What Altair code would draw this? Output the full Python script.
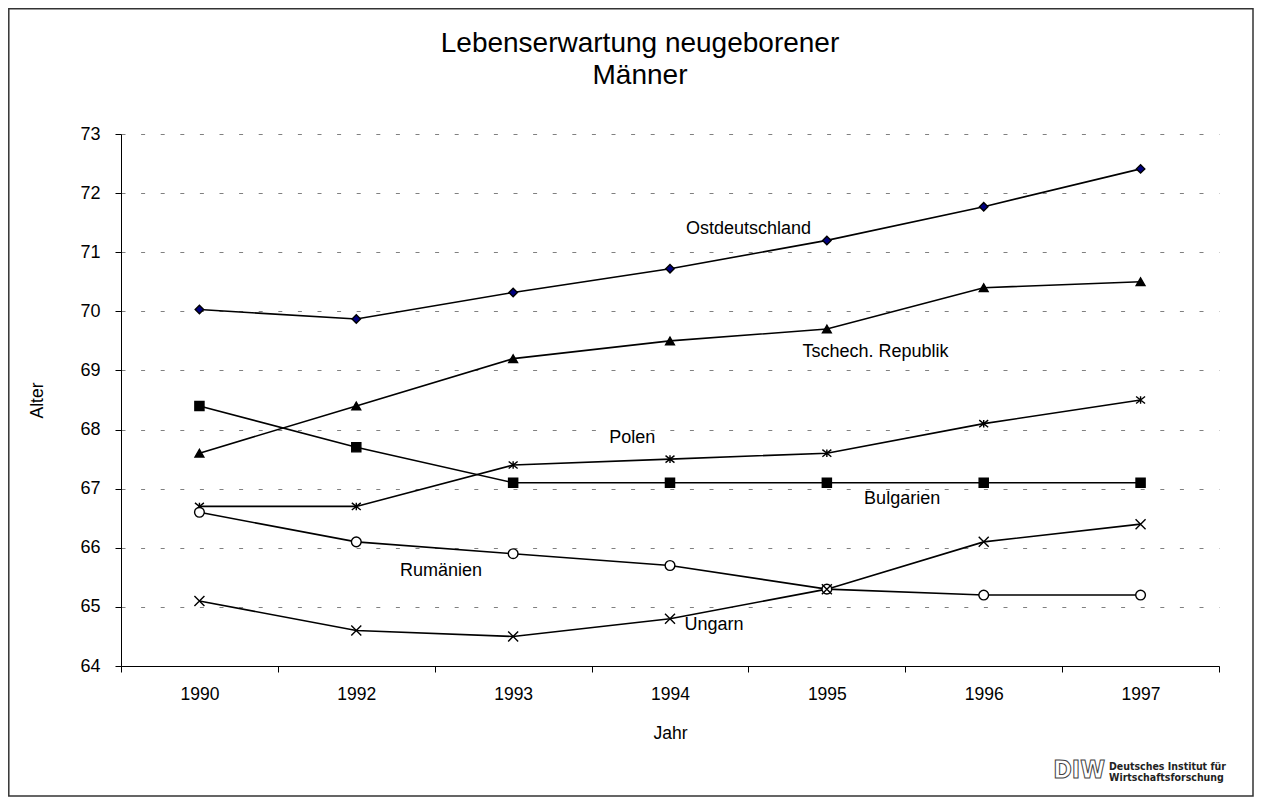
import altair as alt
import pandas as pd

# ---------------- data ----------------
years = ["1990", "1992", "1993", "1994", "1995", "1996", "1997"]
countries = ["Ostdeutschland", "Tschech. Republik", "Bulgarien", "Polen", "Rumänien", "Ungarn"]

ostdeutschland = [70.03, 69.87, 70.32, 70.72, 71.2, 71.77, 72.41]
tschechien = [67.6, 68.4, 69.2, 69.5, 69.7, 70.4, 70.5]
bulgarien = [68.4, 67.7, 67.1, 67.1, 67.1, 67.1, 67.1]
polen = [66.7, 66.7, 67.4, 67.5, 67.6, 68.1, 68.5]
rumaenien = [66.6, 66.1, 65.9, 65.7, 65.3, 65.2, 65.2]
ungarn = [65.1, 64.6, 64.5, 64.8, 65.3, 66.1, 66.4]
series = [ostdeutschland, tschechien, bulgarien, polen, rumaenien, ungarn]

# in-chart series labels (position along the category axis, value axis)
label_pos = [3.5, 4.31, 4.48, 2.76, 1.54, 3.28]
label_val = [71.39, 69.32, 66.83, 67.86, 65.61, 64.69]

y_ticks = list(range(64, 74))

title_lines = ["Lebenserwartung neugeborener", "Männer"]
logo_lines = ["Deutsches Institut für", "Wirtschaftsforschung"]

# ---------------- tables ----------------
rows = []
for c, vals in zip(countries, series):
    for i, (yr, v) in enumerate(zip(years, vals)):
        rows.append({"country": c, "year": yr, "pos": i, "value": v})
df = pd.DataFrame(rows)
lab_df = pd.DataFrame({"country": countries, "pos": label_pos, "value": label_val})
one = pd.DataFrame({"k": [0]})

# ---------------- styling ----------------
FONT = "Liberation Sans"
W, H = 1098, 532
n = len(years)
band = W / n

shapes = [
    "diamond",
    "triangle-up",
    "square",
    "M0,-0.8L0,0.8M-0.95,-0.75L0.95,0.75M-0.95,0.75L0.95,-0.75",
    "circle",
    "M-1,-1L1,1M-1,1L1,-1",
]
fills = ["#000080", "black", "black", "transparent", "white", "transparent"]
sizes = [72, 100, 72, 160, 90, 100]

year_js = "[" + ",".join("'" + y + "'" for y in years + [""]) + "]"

x_axis = alt.Axis(
    values=[k - 0.5 for k in range(n + 1)],
    labelExpr=year_js + "[round(datum.value + 0.5)]",
    labelOffset=band / 2,
    labelFlush=False,
    labelOverlap=False,
    labelFont=FONT,
    labelFontSize=17.5,
    labelColor="black",
    labelPadding=13,
    ticks=True,
    tickSize=6,
    tickColor="black",
    domainColor="black",
    domainWidth=1,
    grid=False,
    title="Jahr",
    titleFont=FONT,
    titleFontSize=17.5,
    titleFontWeight="normal",
    titleColor="black",
    titlePadding=22,
)
y_axis = alt.Axis(
    values=y_ticks,
    format="d",
    labelFont=FONT,
    labelFontSize=18,
    labelColor="black",
    labelPadding=15,
    tickSize=6,
    tickColor="black",
    domainColor="black",
    domainWidth=1,
    grid=True,
    gridColor="#808080",
    gridDash=[4, 15.6],
    gridWidth=1,
    title="Alter",
    titleFont=FONT,
    titleFontSize=17.5,
    titleFontWeight="normal",
    titleColor="black",
    titlePadding=33,
)

x_enc = alt.X("pos:Q", scale=alt.Scale(domain=[-0.5, n - 0.5], nice=False, zero=False), axis=x_axis)
y_enc = alt.Y("value:Q", scale=alt.Scale(domain=[64, 73], nice=False, zero=False), axis=y_axis)

base = alt.Chart(df).encode(x=x_enc, y=y_enc)

lines = base.mark_line(color="black", strokeWidth=1.6).encode(detail="country:N")

points = base.mark_point(filled=True, stroke="black", strokeWidth=1.4, opacity=1).encode(
    shape=alt.Shape("country:N", scale=alt.Scale(domain=countries, range=shapes), legend=None),
    fill=alt.Fill("country:N", scale=alt.Scale(domain=countries, range=fills), legend=None),
    size=alt.Size("country:N", scale=alt.Scale(domain=countries, range=sizes), legend=None),
)

labels = alt.Chart(lab_df).mark_text(
    font=FONT, fontSize=18, color="black", align="center", baseline="middle"
).encode(x=x_enc, y=y_enc, text="country:N")

title = alt.Chart(one).mark_text(
    font=FONT, fontSize=28, color="black", align="center", baseline="alphabetic",
    lineHeight=32, text=title_lines,
).encode(x=alt.value(519), y=alt.value(-82))

frame = alt.Chart(one).mark_rect(fill="transparent", stroke="#333333", strokeWidth=1.5).encode(
    x=alt.value(-112.2), x2=alt.value(1132), y=alt.value(-125.2), y2=alt.value(662)
)

logo_mark = alt.Chart(one).mark_text(
    font="Liberation Sans Narrow, DejaVu Sans Condensed", fontSize=25, fontWeight="bold",
    fill="white", stroke="#444444", strokeWidth=1, align="right", baseline="alphabetic", text="DIW",
).encode(x=alt.value(984), y=alt.value(644))

logo_text = alt.Chart(one).mark_text(
    font="DejaVu Sans Condensed", fontSize=10.5, fontWeight="bold", color="#222222",
    align="left", baseline="alphabetic", lineHeight=11, text=logo_lines,
).encode(x=alt.value(988), y=alt.value(636))

chart = alt.layer(frame, lines, points, labels, title, logo_mark, logo_text).properties(
    width=W,
    height=H,
    autosize=alt.AutoSizeParams(type="none"),
    padding={"left": 113, "top": 126, "right": 35, "bottom": 131},
    background="white",
).configure_view(stroke=None)

chart.save("out.html", embed_options={"renderer": "svg", "actions": False})
